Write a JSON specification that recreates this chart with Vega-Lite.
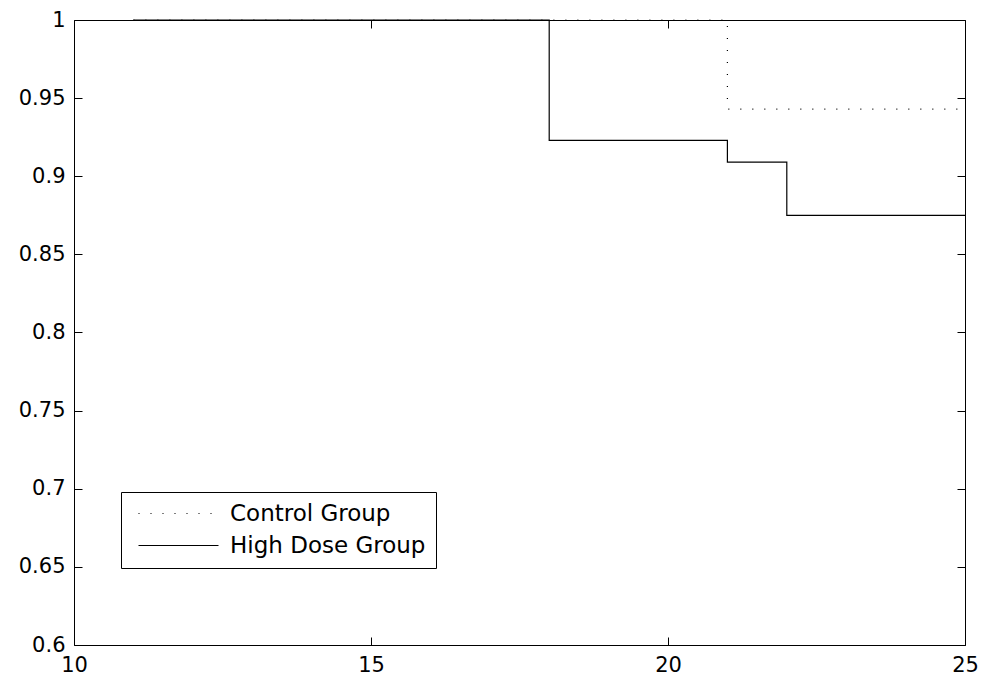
{
  "$schema": "https://vega.github.io/schema/vega-lite/v6.json",
  "width": 891,
  "height": 625,
  "autosize": {"type": "none"},
  "padding": {"left": 74, "top": 20, "right": 26, "bottom": 39},
  "background": "white",
  "config": {
    "view": {"stroke": null},
    "axis": {
      "grid": false,
      "domainColor": "black",
      "domainWidth": 1,
      "tickColor": "black",
      "tickWidth": 1,
      "tickSize": -8,
      "labelFont": "DejaVu Sans",
      "labelFontSize": 21,
      "labelColor": "black",
      "labelFlush": false,
      "labelOverlap": false,
      "title": null
    },
    "legend": {
      "labelFont": "DejaVu Sans",
      "labelFontSize": 23,
      "labelColor": "black",
      "labelLimit": 400
    }
  },
  "data": {
    "values": [
      {"group": "Control Group", "t": 11, "s": 1},
      {"group": "Control Group", "t": 21, "s": 0.943},
      {"group": "Control Group", "t": 25, "s": 0.943},
      {"group": "High Dose Group", "t": 11, "s": 1},
      {"group": "High Dose Group", "t": 18, "s": 0.923},
      {"group": "High Dose Group", "t": 21, "s": 0.909},
      {"group": "High Dose Group", "t": 22, "s": 0.875},
      {"group": "High Dose Group", "t": 25, "s": 0.875}
    ]
  },
  "layer": [
    {
      "mark": {"type": "line", "interpolate": "step-after", "color": "black", "strokeWidth": 1.2},
      "encoding": {
        "x": {
          "field": "t", "type": "quantitative",
          "scale": {"domain": [10, 25], "nice": false, "zero": false},
          "axis": {"orient": "bottom", "values": [10, 15, 20, 25], "labelPadding": 17}
        },
        "y": {
          "field": "s", "type": "quantitative",
          "scale": {"domain": [0.6, 1], "nice": false, "zero": false},
          "axis": {"orient": "left", "values": [0.6, 0.65, 0.7, 0.75, 0.8, 0.85, 0.9, 0.95, 1], "format": "~g", "labelPadding": 17}
        },
        "strokeDash": {
          "field": "group", "type": "nominal",
          "scale": {"domain": ["Control Group", "High Dose Group"], "range": [[1, 11], [1, 0]]},
          "legend": {
            "title": null,
            "orient": "none",
            "legendX": 47,
            "legendY": 472,
            "symbolType": "M0,0H8",
            "symbolSize": 400,
            "symbolStrokeColor": "black",
            "symbolStrokeWidth": 1.2,
            "symbolOffset": -4,
            "labelOffset": 80,
            "labelLimit": 400,
            "rowPadding": 8,
            "padding": 10,
            "strokeColor": "black",
            "fillColor": "white",
            "cornerRadius": 0
          }
        }
      }
    },
    {
      "mark": {"type": "point", "opacity": 0},
      "encoding": {
        "x": {
          "field": "t", "type": "quantitative",
          "scale": {"domain": [10, 25], "nice": false, "zero": false},
          "axis": {"orient": "top", "values": [10, 15, 20, 25], "labels": false}
        },
        "y": {
          "field": "s", "type": "quantitative",
          "scale": {"domain": [0.6, 1], "nice": false, "zero": false},
          "axis": {"orient": "right", "values": [0.6, 0.65, 0.7, 0.75, 0.8, 0.85, 0.9, 0.95, 1], "labels": false}
        }
      }
    }
  ],
  "resolve": {"axis": {"x": "independent", "y": "independent"}}
}
